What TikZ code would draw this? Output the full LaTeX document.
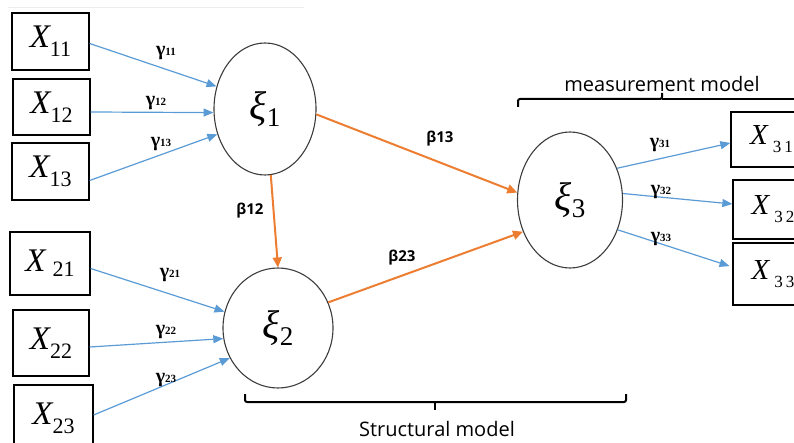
\documentclass[tikz,border=0pt]{standalone}
\usepackage{fontspec}
\setmainfont{Liberation Serif}
\newfontfamily\uisans{Open Sans}
\usetikzlibrary{arrows.meta,shapes.geometric}

\definecolor{sblue}{RGB}{91,155,213}
\definecolor{sorange}{RGB}{237,125,49}
\definecolor{edgegray}{RGB}{60,60,60}

\newcommand{\Xa}[1]{{\fontsize{33}{33}\selectfont\itshape X}{\fontsize{22}{22}\selectfont\raisebox{-9pt}{#1}}}
\newcommand{\Xb}[1]{{\fontsize{33}{33}\selectfont\itshape X}\hspace{7pt}{\fontsize{22}{22}\selectfont\raisebox{-5pt}{#1}}}
\newcommand{\Xc}[2]{{\fontsize{29}{29}\selectfont\itshape X}\hspace{5pt}{\fontsize{17}{17}\selectfont\raisebox{-8pt}{#1\hspace{3pt}#2}}}
\newcommand{\xil}[1]{{\fontsize{40}{40}\selectfont\itshape ξ}{\fontsize{27}{27}\selectfont\raisebox{-7pt}{#1}}}
\newcommand{\gl}[1]{{\bfseries\fontsize{20}{20}\selectfont γ\fontsize{11}{11}\selectfont #1}}
\newcommand{\bl}[1]{{\uisans\bfseries\fontsize{15}{15}\selectfont β#1}}

\tikzset{
  mbox/.style={draw=black, line width=1.3pt, inner sep=0pt},
  latent/.style={ellipse, draw=edgegray, line width=1.1pt, inner sep=0pt},
  barrow/.style={draw=sblue, line width=1.2pt, -{Triangle[length=10pt,width=8pt]}},
  oarrow/.style={draw=sorange, line width=2pt, -{Triangle[length=10pt,width=9pt]}},
  glab/.style={inner sep=0pt},
  brace/.style={draw=black, line width=2pt, rounded corners=2pt},
  btext/.style={font=\uisans\fontsize{20}{20}\selectfont, inner sep=0pt}
}

\begin{document}
\begin{tikzpicture}[x=1pt,y=-1pt]
\useasboundingbox (0,0) rectangle (794,443);
\clip (0,0) rectangle (794,443);

% faint screenshot line
\draw[gray!15, line width=1pt] (8,8) -- (304,8);

% indicator boxes, left
\node[mbox, minimum width=77pt, minimum height=57pt] (X11) at (50.5,41.5) {\Xa{11}};
\node[mbox, minimum width=77pt, minimum height=56pt] (X12) at (51.5,107) {\Xa{12}};
\node[mbox, minimum width=77pt, minimum height=57pt] (X13) at (50.5,171.5) {\Xa{13}};
\node[mbox, minimum width=80pt, minimum height=63pt] (X21) at (50,263.5) {\Xb{21}};
\node[mbox, minimum width=76pt, minimum height=66pt] (X22) at (51,343) {\Xa{22}};
\node[mbox, minimum width=79pt, minimum height=66pt] (X23) at (53.5,418) {\Xa{23}};

% indicator boxes, right
\node[mbox, minimum width=81pt, minimum height=55pt] (X31) at (771.5,139.5) {\Xc{3}{1}};
\node[mbox, minimum width=80pt, minimum height=59pt] (X32) at (773,209.5) {\Xc{3}{2}};
\node[mbox, minimum width=80pt, minimum height=62pt] (X33) at (773,274) {\Xc{3}{3}};

% latent variables
\node[latent, minimum width=102pt, minimum height=132pt] (xi1) at (265,109) {\xil{1}};
\node[latent, minimum width=110pt, minimum height=120pt] (xi2) at (278,328) {\xil{2}};
\node[latent, minimum width=105pt, minimum height=136pt] (xi3) at (570,200) {\xil{3}};

% measurement arrows
\draw[barrow] ([yshift=-2pt]X11.east) -- (xi1.155);
\draw[barrow] ([yshift=-5pt]X12.east) -- (xi1.184);
\draw[barrow] ([yshift=-9pt]X13.east) -- (xi1.208);
\draw[barrow] ([yshift=-5pt]X21.east) -- (xi2.163);
\draw[barrow] ([yshift=-4pt]X22.east) -- (xi2.191);
\draw[barrow] ([yshift=3pt]X23.east) -- (xi2.212);
\draw[barrow] (xi3.34) -- ([yshift=-3.5pt]X31.west);
\draw[barrow] (xi3.7) -- ([yshift=5.5pt]X32.west);
\draw[barrow, shorten >=3pt] (xi3.328) -- ([yshift=7pt]X33.west);

% structural arrows
\draw[oarrow] (xi1.354) -- (xi3.172);
\draw[oarrow] (xi1.275) -- (xi2.north);
\draw[oarrow] (xi2.27) -- (xi3.214);

% labels
\node[glab] (g11) at (166,53) {\gl{11}};
\node[glab] (g12) at (156,103) {\gl{12}};
\node[glab] (g13) at (161,144) {\gl{13}};
\node[glab] (g21) at (170,275) {\gl{21}};
\node[glab] (g22) at (166,332) {\gl{22}};
\node[glab] (g23) at (166,380) {\gl{23}};
\node[glab] (g31) at (660,145) {\gl{31}};
\node[glab] (g32) at (661,192) {\gl{32}};
\node[glab] (g33) at (661,239) {\gl{33}};
\node[glab] (b13) at (440,139) {\bl{13}};
\node[glab] (b12) at (250,211) {\bl{12}};
\node[glab] (b23) at (402,258) {\bl{23}};

% braces
\draw[brace] (518,107) -- (518,99) -- (662,99) -- (662,93);
\draw[brace] (662,99) -- (800,99);
\node[btext] (mm) at (662,84) {measurement model};
\draw[brace] (245,394) -- (245,402) -- (626,402) -- (626,394);
\draw[brace] (435,402) -- (435,410);
\node[btext] (sm) at (437,429) {Structural model};
\end{tikzpicture}
\end{document}
